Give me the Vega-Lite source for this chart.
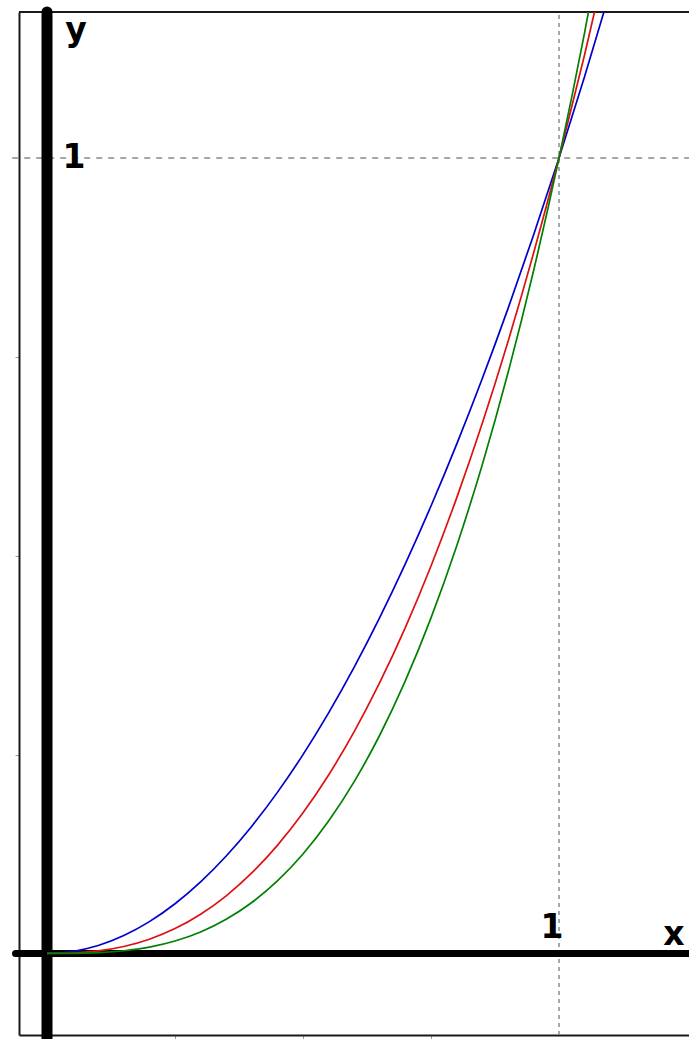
{
  "$schema": "https://vega.github.io/schema/vega-lite/v6.json",
  "width": 670,
  "height": 1023,
  "autosize": {"type": "none"},
  "padding": {"left": 19, "top": 12, "right": 0, "bottom": 4},
  "background": "white",
  "config": {"view": {"stroke": null}},
  "datasets": {
    "curves": [
      {"x": 0, "y": 0, "s": "x²"}, {"x": 0.05, "y": 0.0025, "s": "x²"}, {"x": 0.1, "y": 0.01, "s": "x²"}, {"x": 0.15, "y": 0.0225, "s": "x²"}, {"x": 0.2, "y": 0.04, "s": "x²"}, {"x": 0.25, "y": 0.0625, "s": "x²"}, {"x": 0.3, "y": 0.09, "s": "x²"}, {"x": 0.35, "y": 0.1225, "s": "x²"}, {"x": 0.4, "y": 0.16, "s": "x²"}, {"x": 0.45, "y": 0.2025, "s": "x²"}, {"x": 0.5, "y": 0.25, "s": "x²"}, {"x": 0.55, "y": 0.3025, "s": "x²"}, {"x": 0.6, "y": 0.36, "s": "x²"}, {"x": 0.65, "y": 0.4225, "s": "x²"}, {"x": 0.7, "y": 0.49, "s": "x²"}, {"x": 0.75, "y": 0.5625, "s": "x²"}, {"x": 0.8, "y": 0.64, "s": "x²"}, {"x": 0.85, "y": 0.7225, "s": "x²"}, {"x": 0.9, "y": 0.81, "s": "x²"}, {"x": 0.95, "y": 0.9025, "s": "x²"}, {"x": 1.0, "y": 1.0, "s": "x²"}, {"x": 1.05, "y": 1.1025, "s": "x²"}, {"x": 1.1, "y": 1.21, "s": "x²"},
      {"x": 0, "y": 0, "s": "x^2.5"}, {"x": 0.05, "y": 0.000559, "s": "x^2.5"}, {"x": 0.1, "y": 0.003162, "s": "x^2.5"}, {"x": 0.15, "y": 0.008714, "s": "x^2.5"}, {"x": 0.2, "y": 0.017889, "s": "x^2.5"}, {"x": 0.25, "y": 0.03125, "s": "x^2.5"}, {"x": 0.3, "y": 0.049295, "s": "x^2.5"}, {"x": 0.35, "y": 0.072472, "s": "x^2.5"}, {"x": 0.4, "y": 0.101193, "s": "x^2.5"}, {"x": 0.45, "y": 0.135841, "s": "x^2.5"}, {"x": 0.5, "y": 0.176777, "s": "x^2.5"}, {"x": 0.55, "y": 0.22434, "s": "x^2.5"}, {"x": 0.6, "y": 0.278856, "s": "x^2.5"}, {"x": 0.65, "y": 0.340632, "s": "x^2.5"}, {"x": 0.7, "y": 0.409963, "s": "x^2.5"}, {"x": 0.75, "y": 0.487139, "s": "x^2.5"}, {"x": 0.8, "y": 0.572433, "s": "x^2.5"}, {"x": 0.85, "y": 0.666109, "s": "x^2.5"}, {"x": 0.9, "y": 0.768431, "s": "x^2.5"}, {"x": 0.95, "y": 0.879649, "s": "x^2.5"}, {"x": 1.0, "y": 1.0, "s": "x^2.5"}, {"x": 1.05, "y": 1.129732, "s": "x^2.5"}, {"x": 1.1, "y": 1.26906, "s": "x^2.5"},
      {"x": 0, "y": 0, "s": "x³"}, {"x": 0.05, "y": 0.000125, "s": "x³"}, {"x": 0.1, "y": 0.001, "s": "x³"}, {"x": 0.15, "y": 0.003375, "s": "x³"}, {"x": 0.2, "y": 0.008, "s": "x³"}, {"x": 0.25, "y": 0.015625, "s": "x³"}, {"x": 0.3, "y": 0.027, "s": "x³"}, {"x": 0.35, "y": 0.042875, "s": "x³"}, {"x": 0.4, "y": 0.064, "s": "x³"}, {"x": 0.45, "y": 0.091125, "s": "x³"}, {"x": 0.5, "y": 0.125, "s": "x³"}, {"x": 0.55, "y": 0.166375, "s": "x³"}, {"x": 0.6, "y": 0.216, "s": "x³"}, {"x": 0.65, "y": 0.274625, "s": "x³"}, {"x": 0.7, "y": 0.343, "s": "x³"}, {"x": 0.75, "y": 0.421875, "s": "x³"}, {"x": 0.8, "y": 0.512, "s": "x³"}, {"x": 0.85, "y": 0.614125, "s": "x³"}, {"x": 0.9, "y": 0.729, "s": "x³"}, {"x": 0.95, "y": 0.857375, "s": "x³"}, {"x": 1.0, "y": 1.0, "s": "x³"}, {"x": 1.05, "y": 1.157625, "s": "x³"}, {"x": 1.1, "y": 1.331, "s": "x³"}
    ],
    "labels": [
      {"x": 0.0566, "y": 1.147, "label": "y"},
      {"x": 0.0527, "y": 0.9874, "label": "1"},
      {"x": 0.9863, "y": 0.0195, "label": "1"},
      {"x": 1.2246, "y": 0.0107, "label": "x"}
    ],
    "one": [{}]
  },
  "layer": [
    {
      "data": {"name": "one"},
      "mark": {"type": "rule", "stroke": "#1a1a1a", "strokeWidth": 2},
      "encoding": {
        "x": {"datum": -0.0547, "type": "quantitative", "scale": {"domain": [-0.0547, 1.2539], "nice": false, "zero": false},
          "axis": {"orient": "bottom", "values": [0.25, 0.5, 0.75], "labels": false, "title": null, "grid": false, "domain": true, "domainColor": "#1a1a1a", "domainWidth": 2, "ticks": true, "tickSize": 4, "tickColor": "#9a9a9a", "tickWidth": 1}},
        "x2": {"datum": 1.2539},
        "y": {"datum": 1.1835, "type": "quantitative", "scale": {"domain": [-0.1025, 1.1835], "nice": false, "zero": false},
          "axis": {"orient": "left", "values": [0.25, 0.5, 0.75], "labels": false, "title": null, "grid": false, "domain": true, "domainColor": "#1a1a1a", "domainWidth": 2, "ticks": true, "tickSize": 4, "tickColor": "#9a9a9a", "tickWidth": 1}}
      }
    },
    {
      "data": {"name": "one"},
      "mark": {"type": "rule", "stroke": "#8a8a8a", "strokeWidth": 1.5, "strokeDash": [6, 6]},
      "encoding": {
        "x": {"datum": -0.068, "type": "quantitative"},
        "x2": {"datum": 1.2539},
        "y": {"datum": 1, "type": "quantitative"}
      }
    },
    {
      "data": {"name": "one"},
      "mark": {"type": "rule", "stroke": "#8a8a8a", "strokeWidth": 1.5, "strokeDash": [4, 4]},
      "encoding": {
        "x": {"datum": 1, "type": "quantitative"},
        "y": {"datum": -0.1025, "type": "quantitative"},
        "y2": {"datum": 1.1835}
      }
    },
    {
      "data": {"name": "one"},
      "mark": {"type": "rule", "stroke": "black", "strokeWidth": 11, "strokeCap": "round"},
      "encoding": {
        "x": {"datum": 0, "type": "quantitative"},
        "y": {"datum": -0.12, "type": "quantitative"},
        "y2": {"datum": 1.1835}
      }
    },
    {
      "data": {"name": "one"},
      "mark": {"type": "rule", "stroke": "black", "strokeWidth": 7, "strokeCap": "round"},
      "encoding": {
        "x": {"datum": -0.0615, "type": "quantitative"},
        "x2": {"datum": 1.3},
        "y": {"datum": 0, "type": "quantitative"}
      }
    },
    {
      "data": {"name": "curves"},
      "mark": {"type": "line", "clip": true, "interpolate": "monotone", "strokeWidth": 1.7},
      "encoding": {
        "x": {"field": "x", "type": "quantitative"},
        "y": {"field": "y", "type": "quantitative"},
        "color": {"field": "s", "type": "nominal", "scale": {"domain": ["x²", "x^2.5", "x³"], "range": ["#0000cc", "#dd1111", "#008000"]}, "legend": null}
      }
    },
    {
      "data": {"name": "labels"},
      "mark": {"type": "text", "font": "DejaVu Sans", "fontWeight": "bold", "fontSize": 33, "align": "center", "baseline": "alphabetic", "color": "black"},
      "encoding": {
        "x": {"field": "x", "type": "quantitative"},
        "y": {"field": "y", "type": "quantitative"},
        "text": {"field": "label"}
      }
    }
  ]
}
